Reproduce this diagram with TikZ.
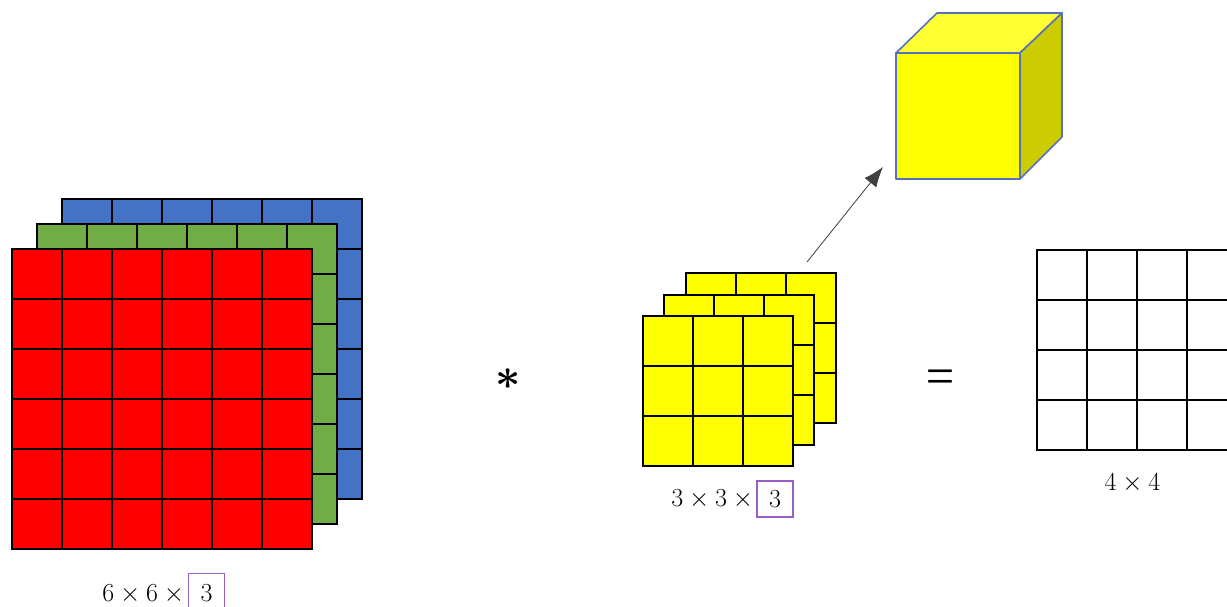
\RequirePackage{fix-cm}
\documentclass[tikz,border=0pt]{standalone}
\usepackage{bm}
\usetikzlibrary{arrows.meta}
\definecolor{lred}{RGB}{255,0,0}
\definecolor{lgreen}{RGB}{112,173,71}
\definecolor{lblue}{RGB}{68,114,196}
\definecolor{fyellow}{RGB}{255,255,0}
\definecolor{ctop}{RGB}{255,255,50}
\definecolor{cside}{RGB}{204,204,0}
\definecolor{cedge}{RGB}{84,114,190}
\definecolor{bpurple}{RGB}{150,95,200}
% #1 x0, #2 y0, #3 cells, #4 cells-1, #5 fill
\newcommand\cellgrid[5]{%
  \filldraw[gridline, fill=#5] (#1,#2) rectangle ({#1+50*#3},{#2+50*#3});
  \foreach \k in {1,...,#4}{%
    \draw[gridline] ({#1+50*\k},#2) -- ({#1+50*\k},{#2+50*#3});
    \draw[gridline] (#1,{#2+50*\k}) -- ({#1+50*#3},{#2+50*\k});
  }%
}
\begin{document}
\begin{tikzpicture}[x=1pt,y=-1pt,
  gridline/.style={draw=black,line width=1.5pt},
  dimlabel/.style={font=\fontsize{26}{30}\selectfont, inner sep=0pt},
  chanbox/.style={draw=bpurple, line width=1.4pt, minimum width=36pt, minimum height=36pt, inner sep=0pt, font=\fontsize{26}{30}\selectfont},
  cubeface/.style={draw=cedge, line width=1.6pt, line join=round},
  opsign/.style={inner sep=0pt}]
\useasboundingbox (0,0) rectangle (1227,607);
\fill[white] (0,0) rectangle (1227,607);
\begin{scope}
\clip (0,0) rectangle (1227,607);
% input volume 6x6x3
\cellgrid{62}{199}{6}{5}{lblue}
\cellgrid{37}{224}{6}{5}{lgreen}
\cellgrid{12}{249}{6}{5}{lred}
% filter 3x3x3
\cellgrid{686}{273}{3}{2}{fyellow}
\cellgrid{664}{295}{3}{2}{fyellow}
\cellgrid{643}{316}{3}{2}{fyellow}
% output 4x4
\cellgrid{1037}{250}{4}{3}{white}
% cube
\coordinate (c1) at (896,53);
\coordinate (c2) at (1020,53);
\coordinate (c3) at (1020,179);
\coordinate (c4) at (896,179);
\coordinate (c5) at (937,13);
\coordinate (c6) at (1062,13);
\coordinate (c7) at (1062,137);
\filldraw[cubeface, fill=ctop] (c1) -- (c5) -- (c6) -- (c2) -- cycle;
\filldraw[cubeface, fill=cside] (c2) -- (c6) -- (c7) -- (c3) -- cycle;
\filldraw[cubeface, fill=fyellow] (c1) -- (c2) -- (c3) -- (c4) -- cycle;
% arrow
\coordinate (arrtail) at (807,262);
\coordinate (arrhead) at (883,167);
\draw[line width=0.8pt, black!75, -{Latex[length=20pt,width=15pt]}] (arrtail) -- (arrhead);
% operators
\node[opsign, font=\fontsize{44}{44}\selectfont] (star) at (508,379) {$\bm{\ast}$};
\node[opsign, font=\fontsize{32}{32}\selectfont\bfseries] (eq) at (940,379) {\scalebox{1}[1.5]{=}};
% labels
\node[chanbox, minimum height=40pt] (boxA) at (206.5,593.5) {3};
\node[dimlabel, anchor=east] (lblA) at (190,594.5) {$6\times 6\times{}$};
\node[chanbox] (boxB) at (775,499) {3};
\node[dimlabel, anchor=east] (lblB) at (759,499.5) {$3\times 3\times{}$};
\node[dimlabel] (lblC) at (1132.5,483.3) {$4\times 4$};
\end{scope}
\end{tikzpicture}
\end{document}
